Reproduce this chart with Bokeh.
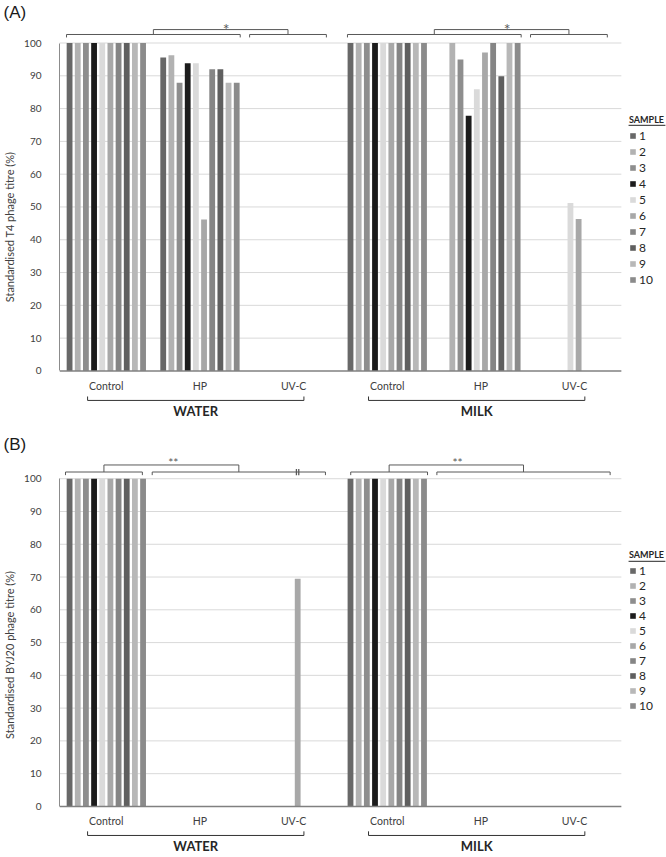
from bokeh.plotting import figure
from bokeh.models import Range1d, FixedTicker, Legend, LegendItem, ColumnDataSource
from bokeh.transform import dodge
from bokeh.layouts import column
from bokeh.embed import file_html
from bokeh.resources import INLINE
from bokeh.core.properties import value

# ---------------- data ----------------
samples = ["1", "2", "3", "4", "5", "6", "7", "8", "9", "10"]
sample_colors = ["#686868", "#b2b2b2", "#8e8e8e", "#1c1c1c", "#dadada",
                 "#a8a8a8", "#858585", "#5f5f5f", "#b8b8b8", "#8b8b8b"]
treatments = ["Control", "HP", "UV-C"]
matrices = ["WATER", "MILK"]
y_ticks = [0, 10, 20, 30, 40, 50, 60, 70, 80, 90, 100]

# (A) T4 phage, values per sample 1..10
t4_water_control = [100, 100, 100, 100, 100, 100, 100, 100, 100, 100]
t4_water_hp = [95.6, 96.3, 87.9, 93.8, 93.8, 46.2, 92.0, 92.0, 87.9, 87.9]
t4_water_uvc = [0, 0, 0, 0, 0, 0, 0, 0, 0, 0]
t4_milk_control = [100, 100, 100, 100, 100, 100, 100, 100, 100, 100]
t4_milk_hp = [0, 100, 95.0, 77.8, 85.9, 97.1, 100, 89.9, 100, 100]
t4_milk_uvc = [0, 0, 0, 0, 51.2, 46.3, 0, 0, 0, 0]

# (B) BYJ20 phage, values per sample 1..10
byj_water_control = [100, 100, 100, 100, 100, 100, 100, 100, 100, 100]
byj_water_hp = [0, 0, 0, 0, 0, 0, 0, 0, 0, 0]
byj_water_uvc = [0, 0, 0, 0, 0, 69.5, 0, 0, 0, 0]
byj_milk_control = [100, 100, 100, 100, 100, 100, 100, 100, 100, 100]
byj_milk_hp = [0, 0, 0, 0, 0, 0, 0, 0, 0, 0]
byj_milk_uvc = [0, 0, 0, 0, 0, 0, 0, 0, 0, 0]

FONT = "Lato"
LINE = "#595959"
TXT = "#404040"

W = 666
PITCH = 0.0872
BAR_W = 0.062


def build(tag, ylabel, cats, height, yr, brackets, connectors, stars, star_size,
          lab_y, grp_line_y, grp_tick_y, grp_y, legend_y, legend_spacing, underline_y,
          breaks=None):
    p = figure(width=W, height=height, output_backend="svg", toolbar_location=None,
               x_range=Range1d(0, 6.482), y_range=Range1d(*yr),
               x_axis_location=None, min_border_left=58, min_border_right=0,
               min_border_top=0, min_border_bottom=0, title=tag)
    p.outline_line_color = None
    p.grid.visible = False
    p.background_fill_color = "white"
    p.title.text_font = "Liberation Sans"
    p.title.text_font_size = "17px"
    p.title.text_font_style = "normal"
    p.title.text_color = "#1a1a1a"
    p.title.align = "left"
    p.title.offset = -56
    p.title.standoff = 0

    ax = p.yaxis[0]
    ax.ticker = FixedTicker(ticks=y_ticks)
    ax.bounds = (0, 100)
    ax.axis_line_color = "#8c8c8c"
    ax.major_tick_line_color = None
    ax.minor_tick_line_color = None
    ax.major_label_standoff = 12
    ax.major_label_text_font = FONT
    ax.major_label_text_font_size = "10px"
    ax.major_label_text_color = TXT
    ax.axis_label = ylabel
    ax.axis_label_standoff = 5
    ax.axis_label_text_font = FONT
    ax.axis_label_text_font_size = "11px"
    ax.axis_label_text_font_style = "normal"
    ax.axis_label_text_color = TXT

    cat_x = [i + 0.5 for i in range(len(cats))]

    # gridlines
    p.segment(x0=0, x1=len(cats), y0=y_ticks[1:], y1=y_ticks[1:],
              line_color="#d9d9d9", line_width=1)

    items = []
    for i, s in enumerate(samples):
        src = ColumnDataSource(dict(x=cat_x, top=[c[i] for c in cats]))
        r = p.vbar(x=dodge("x", (i - 4.5) * PITCH, range=p.x_range), top="top",
                   width=BAR_W, bottom=0, source=src, fill_color=sample_colors[i],
                   line_color=None)
        items.append(LegendItem(label=s, renderers=[r]))

    # category axis baseline
    p.segment(x0=[0], x1=[len(cats)], y0=[0], y1=[0], line_color="#808080", line_width=1.5)

    # significance brackets
    b_y, b_end = brackets["y"], brackets["end"]
    xs, ys = [], []
    for (a, b) in brackets["spans"]:
        xs.append([a, a, b, b])
        ys.append([b_end, b_y, b_y, b_end])
    for (i, j) in connectors["pairs"]:
        a = sum(brackets["spans"][i]) / 2
        b = sum(brackets["spans"][j]) / 2
        xs.append([a, a, b, b])
        ys.append([b_y, connectors["y"], connectors["y"], b_y])
    p.multi_line(xs, ys, line_color=LINE, line_width=1)
    p.text(x=[s[0] for s in stars], y=[s[1] for s in stars], text=[s[2] for s in stars],
           text_align="center", text_baseline="middle", text_font=value(FONT),
           text_font_size=star_size, text_color=LINE)
    if breaks:
        bx, by0, by1 = breaks
        p.multi_line([[x, x] for x in bx], [[by0, by1] for _ in bx], line_color=LINE,
                     line_width=1.3)

    # category labels
    p.text(x=cat_x, y=[lab_y] * len(cat_x), text=treatments * 2, text_align="center",
           text_baseline="middle", text_font=value(FONT), text_font_size="10.5px",
           text_color=TXT)
    # group brackets
    gxs, gys, gmid = [], [], []
    for k in range(len(matrices)):
        a = 0.30 + 3 * k
        b = 2.61 + 3 * k
        gxs.append([a, a, b, b])
        gys.append([grp_tick_y, grp_line_y, grp_line_y, grp_tick_y])
        gmid.append((a + b) / 2)
    p.multi_line(gxs, gys, line_color="#333333", line_width=1)
    p.text(x=gmid, y=[grp_y] * len(gmid), text=matrices, text_align="center",
           text_baseline="middle", text_font=value(FONT), text_font_size="13px",
           text_font_style="bold", text_color="#262626")

    # SAMPLE underline
    p.segment(x0=[6.077], x1=[6.47], y0=[underline_y], y1=[underline_y],
              line_color="#262626", line_width=1)

    legend = Legend(items=items, location=(570, legend_y), title="SAMPLE",
                    border_line_color=None, background_fill_alpha=0, padding=0,
                    margin=0, spacing=legend_spacing, glyph_width=7, glyph_height=7,
                    label_standoff=3, label_height=13, label_text_font=FONT,
                    label_text_font_size="12px", label_text_color="#262626",
                    title_text_font=FONT, title_text_font_size="9px",
                    title_text_font_style="bold", title_text_color="#262626",
                    title_standoff=3)
    p.add_layout(legend)
    return p


pa = build("(A)", "Standardised T4 phage titre (%)",
           [t4_water_control, t4_water_hp, t4_water_uvc,
            t4_milk_control, t4_milk_hp, t4_milk_uvc],
           432, (-18.78, 106.56),
           {"y": 102.6, "end": 101.7,
            "spans": [(0.075, 1.93), (2.03, 2.85), (3.075, 4.93), (5.03, 5.85)]},
           {"y": 104.1, "pairs": [(0, 1), (2, 3)]},
           [(1.78, 104.3, "*"), (4.78, 104.3, "*")], "16px",
           -4.73, -9.0, -7.8, -12.37, 145, 1, 74.9)

pb = build("(B)", "Standardised BYJ20 phage titre (%)",
           [byj_water_control, byj_water_hp, byj_water_uvc,
            byj_milk_control, byj_milk_hp, byj_milk_uvc],
           424, (-15.28, 107.70),
           {"y": 102.05, "end": 101.1,
            "spans": [(0.064, 0.885), (0.99, 2.84), (3.11, 3.93), (4.03, 5.88)]},
           {"y": 104.2, "pairs": [(0, 1), (2, 3)]},
           [(1.215, 105.1, "**"), (4.25, 105.1, "**")], "12px",
           -4.58, -8.86, -7.6, -12.22, 143, 0, 74.8,
           breaks=([2.53, 2.555], 101.1, 103.0))

layout = column(pa, pb, spacing=0)
open("out.html", "w").write(file_html(layout, INLINE))
